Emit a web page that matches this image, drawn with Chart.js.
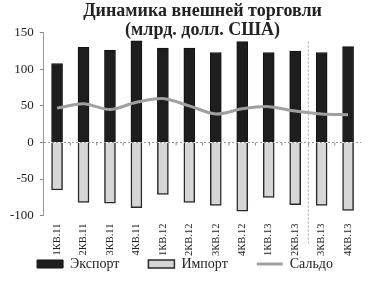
<!DOCTYPE html>
<html>
<head>
<meta charset="utf-8">
<script src="https://cdn.jsdelivr.net/npm/chart.js@4/dist/chart.umd.min.js"></script>
<style>
  html, body { margin: 0; padding: 0; background: #fff; }
  #wrap { width: 369px; height: 281px; }
</style>
</head>
<body>
<div id="wrap"><canvas id="tradeChart" width="369" height="281"></canvas></div>
<script>
const quarters = ['1КВ.11', '2КВ.11', '3КВ.11', '4КВ.11', '1КВ.12', '2КВ.12', '3КВ.12', '4КВ.12', '1КВ.13', '2КВ.13', '3КВ.13', '4КВ.13'];
const exportVals = [108, 130, 126, 139, 129, 129, 123, 138, 123, 125, 123, 131];
const importVals = [-65, -82, -83, -89, -71, -82, -86, -94, -75, -85, -86, -93];
const saldoVals = [47, 53, 45, 55, 60, 50, 39, 46, 49, 43, 39, 38];
const yTicks = [150, 100, 50, 0, -50, -100];

const serif = '"Liberation Serif", "DejaVu Serif", serif';

// dotted separator before 3КВ.13 and small ticks on the zero line
const extras = {
    id: 'extras',
    afterDatasetsDraw(chart) {
        const { ctx, scales: { x, y } } = chart;
        const y0 = y.getPixelForValue(0);
        ctx.save();
        ctx.strokeStyle = '#888';
        ctx.lineWidth = 1;
        for (let i = 0; i < quarters.length - 1; i++) {
            const bx = (x.getPixelForValue(i) + x.getPixelForValue(i + 1)) / 2;
            ctx.beginPath();
            ctx.moveTo(bx, y0);
            ctx.lineTo(bx, y0 + 3);
            ctx.stroke();
        }
        const sx = (x.getPixelForValue(9) + x.getPixelForValue(10)) / 2;
        ctx.strokeStyle = '#aaa';
        ctx.setLineDash([2, 2]);
        ctx.beginPath();
        ctx.moveTo(sx, y.getPixelForValue(138));
        ctx.lineTo(sx, y.bottom + 28);
        ctx.stroke();
        ctx.restore();
    }
};

const ctx = document.getElementById('tradeChart').getContext('2d');
new Chart(ctx, {
    type: 'bar',
    data: {
        labels: quarters,
        datasets: [
            {
                label: 'Экспорт',
                data: exportVals,
                backgroundColor: '#1e1e1e',
                borderColor: '#111',
                borderWidth: 1,
                barThickness: 11,
                grouped: false,
                pointStyle: 'rect',
                order: 2
            },
            {
                label: 'Импорт',
                data: importVals,
                backgroundColor: '#d6d6d6',
                borderColor: '#2a2a2a',
                borderWidth: 1.5,
                barThickness: 11,
                grouped: false,
                pointStyle: 'rect',
                order: 2
            },
            {
                type: 'line',
                label: 'Сальдо',
                data: saldoVals,
                borderColor: '#a0a0a0',
                backgroundColor: '#a0a0a0',
                borderWidth: 3,
                tension: 0.3,
                pointRadius: 0,
                pointStyle: 'line',
                order: 1
            }
        ]
    },
    options: {
        responsive: false,
        animation: false,
        layout: { padding: { left: 4, right: 3, top: 0, bottom: 0 } },
        plugins: {
            title: {
                display: true,
                fullSize: false,
                text: ['Динамика внешней торговли', '(млрд. долл. США)'],
                color: '#222',
                font: { family: serif, size: 18, weight: 'bold', lineHeight: 1.05 },
                padding: { top: 2, bottom: -7 }
            },
            legend: {
                position: 'bottom',
                labels: {
                    usePointStyle: true,
                    pointStyleWidth: 26,
                    boxHeight: 8,
                    padding: 1,
                    color: '#222',
                    font: { family: serif, size: 14 },
                    sort: (a, b) => a.datasetIndex - b.datasetIndex,
                    generateLabels: (chart) => {
                        const items = Chart.defaults.plugins.legend.labels.generateLabels(chart);
                        items.forEach(it => {
                            if (it.datasetIndex < 2) it.text += '\u2003\u2003';
                        });
                        return items;
                    }
                }
            },
            tooltip: { enabled: false }
        },
        scales: {
            x: {
                grid: { display: false, drawTicks: false },
                border: { display: false },
                afterFit: (scale) => { scale.height -= 8; },
                ticks: {
                    minRotation: 90,
                    maxRotation: 90,
                    color: '#222',
                    padding: 8,
                    font: { family: serif, size: 10.5 }
                }
            },
            y: {
                min: -100,
                max: 150,
                afterBuildTicks: (scale) => {
                    scale.ticks = yTicks.map(v => ({ value: v }));
                },
                grid: {
                    color: (c) => c.tick && c.tick.value === 0 ? '#999' : 'rgba(0,0,0,0)',
                    tickColor: '#888',
                    tickLength: 4
                },
                border: { display: true, color: '#999', dash: [2, 2] },
                ticks: {
                    color: '#222',
                    padding: 6,
                    font: { family: serif, size: 13 }
                }
            }
        }
    },
    plugins: [extras]
});
</script>
</body>
</html>
